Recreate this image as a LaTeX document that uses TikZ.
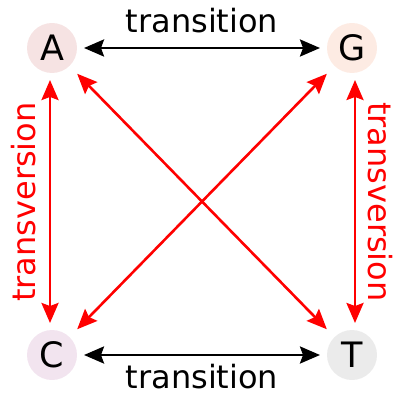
\documentclass[tikz,border=0pt]{standalone}
\usepackage{fontspec}
\setmainfont{DejaVu Sans}
\usetikzlibrary{arrows.meta}
\definecolor{cA}{HTML}{F6E3E3}
\definecolor{cG}{HTML}{FDEBE3}
\definecolor{cC}{HTML}{F2E4EF}
\definecolor{cT}{HTML}{EBEBEB}
\definecolor{myred}{HTML}{FF0000}
\begin{document}
\begin{tikzpicture}[x=1pt,y=-1pt,
  base/.style={circle,minimum size=50pt,inner sep=0pt,outer sep=0pt,font=\fontsize{35}{35}\selectfont},
  conn/.style={line width=2.6pt,{Stealth[length=20pt,width=17pt,inset=3pt]}-{Stealth[length=20pt,width=17pt,inset=3pt]}},
  lbl/.style={font=\fontsize{32}{32}\selectfont,inner sep=0pt},
]
\useasboundingbox (0,0) rectangle (393,395);
\node[base,fill=cA] (A) at (52,48) {A};
\node[base,fill=cG] (G) at (352,48) {G};
\node[base,fill=cC] (C) at (52,355) {C};
\node[base,fill=cT] (T) at (352,355) {T};
\draw[conn,black,shorten <=7pt,shorten >=7pt] (A) -- (G);
\draw[conn,black,shorten <=7pt,shorten >=7pt] (C) -- (T);
\draw[conn,myred,shorten <=7pt,shorten >=7pt] ([xshift=-2pt]A.south) -- ([xshift=-2pt]C.north);
\draw[conn,myred,shorten <=7pt,shorten >=7pt] ([xshift=3pt]G.south) -- ([xshift=3pt]T.north);
\draw[conn,myred,shorten <=11pt,shorten >=11pt] (A) -- (T);
\draw[conn,myred,shorten <=11pt,shorten >=11pt] (G) -- (C);
\node[lbl,anchor=base] (t1) at (202,33) {transition};
\node[lbl,anchor=base] (t2) at (202,388) {transition};
\node[lbl,anchor=base,rotate=90,text=myred] (v1) at (35,202) {transversion};
\node[lbl,anchor=base,rotate=-90,text=myred] (v2) at (368,202) {transversion};
\end{tikzpicture}
\end{document}
